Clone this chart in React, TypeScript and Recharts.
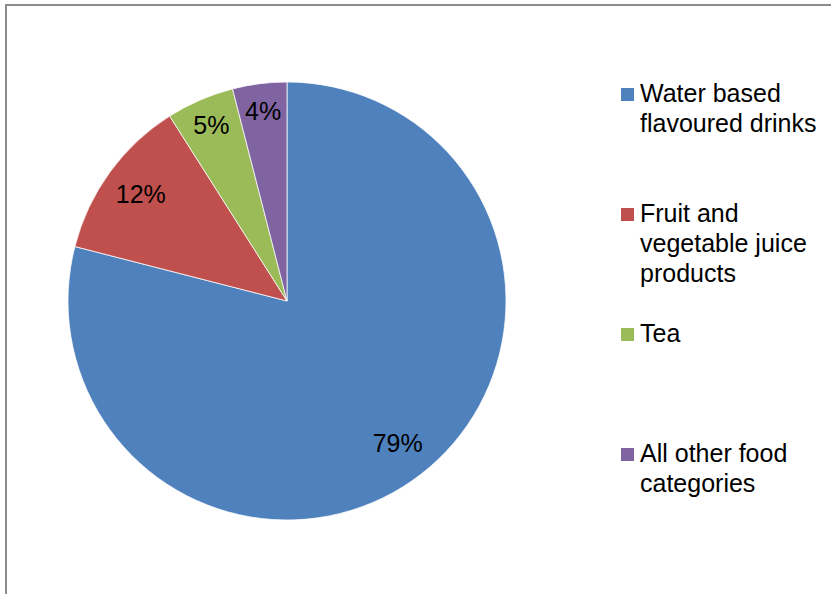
import { PieChart, Pie, Cell, Legend } from "recharts";

const categories = [
  "Water based flavoured drinks",
  "Fruit and vegetable juice products",
  "Tea",
  "All other food categories",
];
const shares = [79, 12, 5, 4];
const colors = ["#4F81BD", "#C0504D", "#9BBB59", "#8064A2"];

const data = categories.map((name, i) => ({ name, value: shares[i] }));

const FONT = "'Liberation Sans', Arial, sans-serif";
const RADIAN = Math.PI / 180;

interface SliceLabelProps {
  cx?: number;
  cy?: number;
  midAngle?: number;
  outerRadius?: number;
  value?: number;
  percent?: number;
}

const SliceLabel = ({ cx = 0, cy = 0, midAngle = 0, outerRadius = 0, value = 0, percent = 0 }: SliceLabelProps) => {
  // thin slices get their label pushed a bit further out
  const r = outerRadius * (percent < 0.1 ? 0.87 : 0.825);
  const x = cx + r * Math.cos(-midAngle * RADIAN);
  const y = cy + r * Math.sin(-midAngle * RADIAN);
  return (
    <text
      x={x}
      y={y + 8}
      fill="#000"
      textAnchor="middle"
      fontSize={25}
      fontFamily={FONT}
    >
      {value}%
    </text>
  );
};

interface LegendEntry {
  value?: string;
  color?: string;
}

const renderLegend = (props: { payload?: LegendEntry[] }) => {
  // keep the order of the data, not the alphabetical one
  const items = [...(props.payload ?? [])].sort(
    (a, b) => categories.indexOf(a.value ?? "") - categories.indexOf(b.value ?? "")
  );
  return (
    <div style={{ fontFamily: FONT, fontSize: 25, lineHeight: "30px", color: "#000" }}>
      {items.map((entry, i) => (
        <div key={i} style={{ position: "relative", height: 120 }}>
          <span
            style={{
              position: "absolute",
              left: 0,
              top: 10,
              width: 13,
              height: 13,
              background: entry.color,
            }}
          />
          <div style={{ position: "absolute", left: 19, top: 0, width: 190 }}>
            {entry.value}
          </div>
        </div>
      ))}
    </div>
  );
};

export default function App() {
  return (
    <div style={{ position: "absolute", left: 0, top: 0, width: 831, height: 594, background: "#fff" }}>
      <div
        style={{
          position: "absolute",
          left: 5,
          top: 4,
          width: 826,
          height: 590,
          borderTop: "2px solid #8c8c8c",
          borderLeft: "2px solid #8c8c8c",
          boxSizing: "border-box",
        }}
      />
      <div style={{ position: "absolute", left: 0, top: 0 }}>
        <PieChart width={831} height={594} margin={{ top: 0, right: 0, bottom: 0, left: 0 }}>
          <Pie
            data={data}
            dataKey="value"
            nameKey="name"
            cx={287}
            cy={301}
            outerRadius={219}
            startAngle={90}
            endAngle={-270}
            stroke="#ffffff"
            strokeWidth={0.75}
            label={<SliceLabel />}
            labelLine={false}
            isAnimationActive={false}
          >
            {data.map((d, i) => (
              <Cell key={d.name} fill={colors[i]} />
            ))}
          </Pie>
          <Legend
            layout="vertical"
            align="right"
            verticalAlign="top"
            content={renderLegend}
            wrapperStyle={{ position: "absolute", left: 621, top: 78, width: 210 }}
          />
        </PieChart>
      </div>
    </div>
  );
}
